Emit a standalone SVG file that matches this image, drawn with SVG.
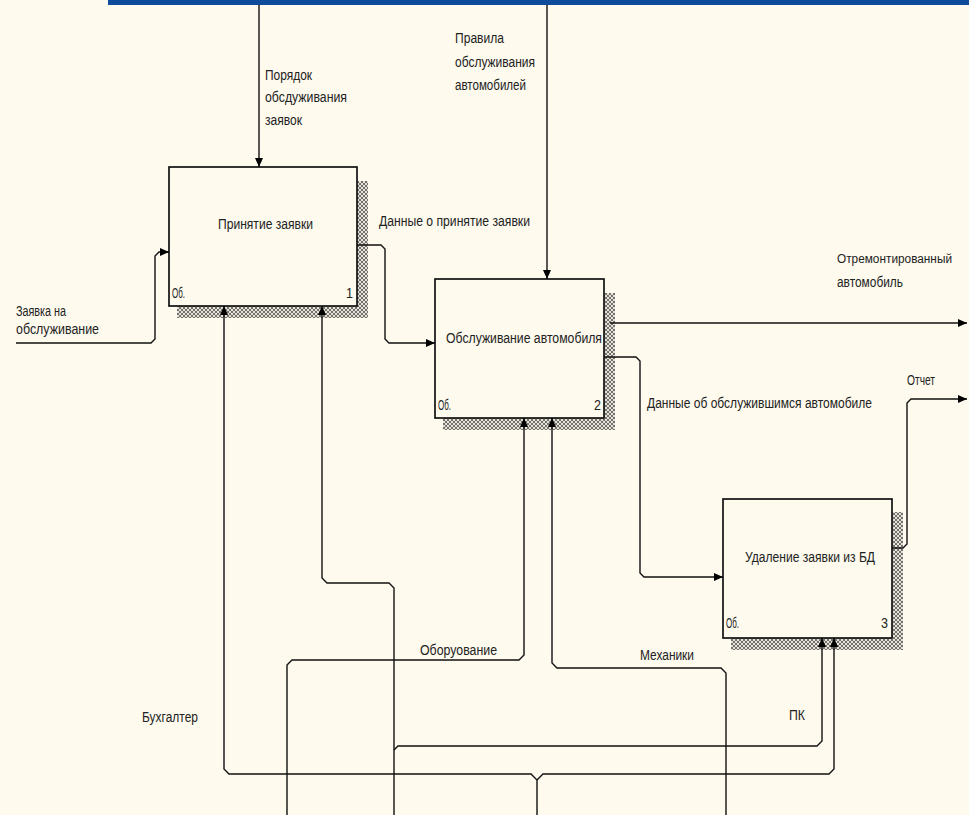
<svg xmlns="http://www.w3.org/2000/svg" width="969" height="815" viewBox="0 0 969 815">
<style>
.bg{fill:#fefaee}
.box{fill:#fefaee;stroke:#111;stroke-width:1.7}
.sh{fill:url(#hatch)}
.ln{fill:none;stroke:#111;stroke-width:1.4}
.t{font-family:"Liberation Sans",Arial,sans-serif;font-size:14px;fill:#222}
.s{font-size:12px}
</style>
<defs>
<pattern id="hatch" width="4" height="4" patternUnits="userSpaceOnUse">
<rect width="4" height="4" fill="#e6e2d6"/>
<path d="M0 0 L4 4 M4 0 L0 4" stroke="#555" stroke-width="0.8"/>
</pattern>
<marker id="ah" markerUnits="userSpaceOnUse" markerWidth="10" markerHeight="9" refX="9" refY="4" orient="auto">
<path d="M0 0 L9 4 L0 8 Z" fill="#000"/>
</marker>
</defs>
<rect class="bg" x="0" y="0" width="969" height="815"/>
<rect x="108" y="0" width="861" height="5" fill="#0e4b9b"/>

<g id="node1">
<rect class="sh" x="357" y="181" width="11" height="137"/>
<rect class="sh" x="177" y="306" width="191" height="12"/>
<rect class="box" x="169" y="167" width="188" height="139"/>
<text class="t" x="218" y="229" textLength="95" lengthAdjust="spacingAndGlyphs">Принятие заявки</text>
<text class="t" x="172" y="298" textLength="13" lengthAdjust="spacingAndGlyphs">Об.</text>
<text class="t" x="346" y="298" textLength="7" lengthAdjust="spacingAndGlyphs">1</text>
</g>

<g id="node2">
<rect class="sh" x="604" y="293" width="11" height="137"/>
<rect class="sh" x="443" y="418" width="172" height="12"/>
<rect class="box" x="435" y="279" width="169" height="139"/>
<text class="t" x="446" y="343" textLength="156" lengthAdjust="spacingAndGlyphs">Обслуживание автомобиля</text>
<text class="t" x="438" y="410" textLength="13" lengthAdjust="spacingAndGlyphs">Об.</text>
<text class="t" x="594" y="410" textLength="7" lengthAdjust="spacingAndGlyphs">2</text>
</g>

<g id="node3">
<rect class="sh" x="892" y="512" width="11" height="138"/>
<rect class="sh" x="731" y="638" width="172" height="12"/>
<rect class="box" x="723" y="499" width="169" height="139"/>
<text class="t" x="745" y="562" textLength="130" lengthAdjust="spacingAndGlyphs">Удаление заявки из БД</text>
<text class="t" x="726" y="628" textLength="13" lengthAdjust="spacingAndGlyphs">Об.</text>
<text class="t" x="881" y="628" textLength="7" lengthAdjust="spacingAndGlyphs">3</text>
</g>

<g id="connectors">
<path class="ln" d="M259 5 V167" marker-end="url(#ah)"/>
<path class="ln" d="M547 5 V279" marker-end="url(#ah)"/>
<path class="ln" d="M16 343 H151 L155 339 V256 L159 252 H169" marker-end="url(#ah)"/>
<path class="ln" d="M357 245 H381 L385 249 V339 L389 343 H435" marker-end="url(#ah)"/>
<path class="ln" d="M610 323 H967" marker-end="url(#ah)"/>
<path class="ln" d="M604 357 H636 L640 361 V573 L644 577 H723" marker-end="url(#ah)"/>
<path class="ln" d="M892 548 H903 L907 544 V403 L911 399 H967" marker-end="url(#ah)"/>
<path class="ln" d="M537 815 V780 L531 774 H229 L224 769 V306" marker-end="url(#ah)"/>
<path class="ln" d="M537 780 L543 774 H829 L834 769 V638" marker-end="url(#ah)"/>
<path class="ln" d="M394 815 V588 L389 583 H327 L322 578 V306" marker-end="url(#ah)"/>
<path class="ln" d="M394 750 L398 746 H817 L822 741 V638" marker-end="url(#ah)"/>
<path class="ln" d="M287 815 V665 L292 660 H519 L524 655 V418" marker-end="url(#ah)"/>
<path class="ln" d="M726 815 V673 L721 668 H557 L552 663 V418" marker-end="url(#ah)"/>
</g>

<g id="labels">
<text class="t" x="265" y="80" textLength="47" lengthAdjust="spacingAndGlyphs">Порядок</text>
<text class="t" x="265" y="102" textLength="82" lengthAdjust="spacingAndGlyphs">обсдуживания</text>
<text class="t" x="265" y="125" textLength="37" lengthAdjust="spacingAndGlyphs">заявок</text>
<text class="t" x="455" y="43" textLength="49" lengthAdjust="spacingAndGlyphs">Правила</text>
<text class="t" x="455" y="67" textLength="80" lengthAdjust="spacingAndGlyphs">обслуживания</text>
<text class="t" x="455" y="90" textLength="71" lengthAdjust="spacingAndGlyphs">автомобилей</text>
<text class="t" x="379" y="226" textLength="151" lengthAdjust="spacingAndGlyphs">Данные о принятие заявки</text>
<text class="t" x="16" y="316" textLength="50" lengthAdjust="spacingAndGlyphs">Заявка на</text>
<text class="t" x="16" y="334" textLength="83" lengthAdjust="spacingAndGlyphs">обслуживание</text>
<text class="t s" x="837" y="263" textLength="115" lengthAdjust="spacingAndGlyphs">Отремонтированный</text>
<text class="t" x="837" y="287" textLength="66" lengthAdjust="spacingAndGlyphs">автомобиль</text>
<text class="t" x="907" y="385" textLength="28" lengthAdjust="spacingAndGlyphs">Отчет</text>
<text class="t" x="647" y="408" textLength="225" lengthAdjust="spacingAndGlyphs">Данные об обслужившимся автомобиле</text>
<text class="t" x="420" y="655" textLength="77" lengthAdjust="spacingAndGlyphs">Оборуование</text>
<text class="t" x="640" y="660" textLength="54" lengthAdjust="spacingAndGlyphs">Механики</text>
<text class="t" x="789" y="720" textLength="16" lengthAdjust="spacingAndGlyphs">ПК</text>
<text class="t" x="142" y="722" textLength="56" lengthAdjust="spacingAndGlyphs">Бухгалтер</text>
</g>
</svg>
